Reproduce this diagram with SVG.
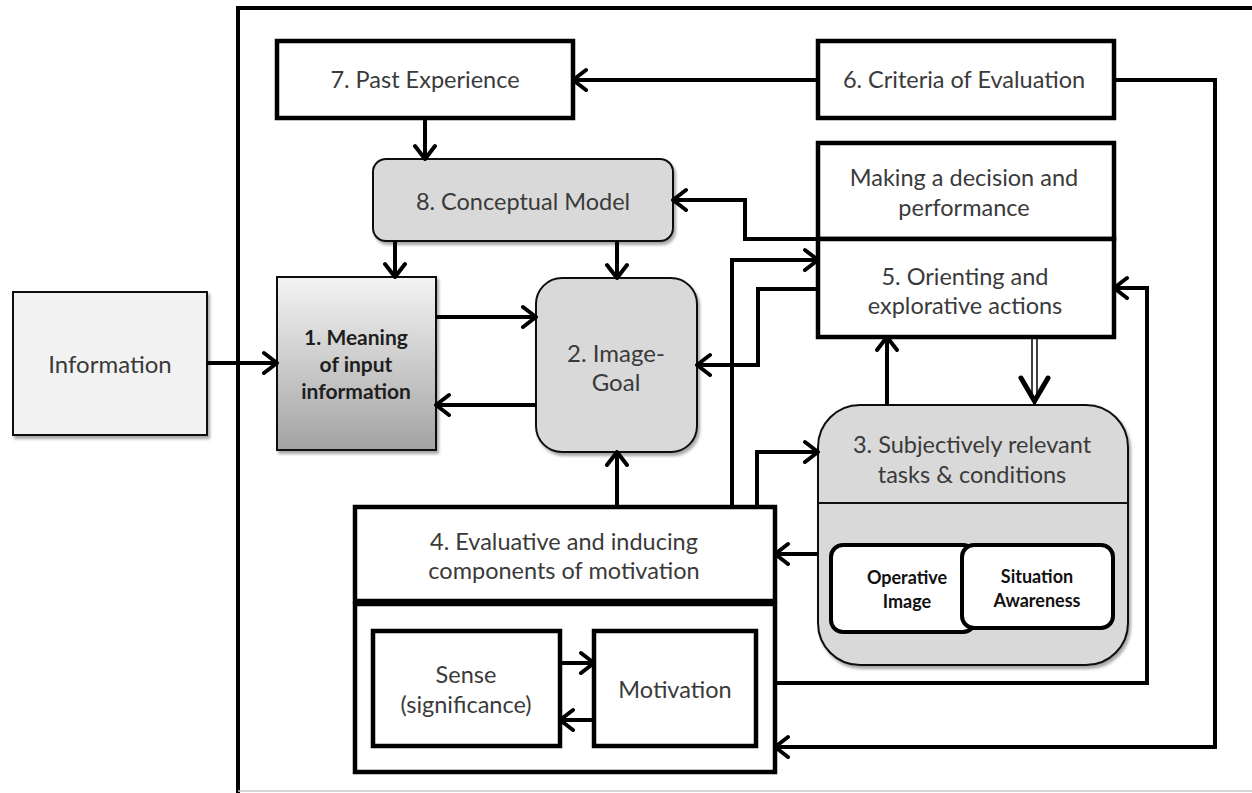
<svg xmlns="http://www.w3.org/2000/svg" width="1252" height="793" viewBox="0 0 1252 793">
  <defs>
    <style>
      .lbl { font-family: Lato, "Open Sans", "Liberation Sans", sans-serif; font-size: 23.5px; fill: #3a3a3a; text-anchor: middle; }
      .bold { font-size: 21px; font-weight: bold; fill: #1e1e1e; }
      .small { font-size: 18px; font-weight: bold; fill: #111; }
      .thick { fill: #fff; stroke: #000; stroke-width: 4.5; }
      .soft { fill: #d9d9d9; stroke: #111; stroke-width: 2; }
      .conn { fill: none; stroke: #000; stroke-width: 4; stroke-linejoin: miter; }
    </style>
    <marker id="arr" viewBox="-16 -13 18 26" markerWidth="18" markerHeight="26" refX="0" refY="0" markerUnits="userSpaceOnUse" orient="auto">
      <path d="M-13,-10 L0,0 L-13,10" fill="none" stroke="#000" stroke-width="4" stroke-linecap="round" stroke-linejoin="round"/>
    </marker>
    <linearGradient id="g1" x1="0" y1="0" x2="0" y2="1">
      <stop offset="0" stop-color="#f4f4f4"/>
      <stop offset="1" stop-color="#a3a3a3"/>
    </linearGradient>
    <filter id="sh" x="-10%" y="-10%" width="130%" height="130%">
      <feDropShadow dx="2" dy="3" stdDeviation="1.5" flood-color="#000" flood-opacity="0.35"/>
    </filter>
  </defs>

  <rect width="1252" height="793" fill="#fff"/>

  <!-- outer frame -->
  <g id="frame">
    <path d="M238,793 V8 H1252" fill="none" stroke="#000" stroke-width="4"/>
    <line x1="238" y1="791" x2="1252" y2="791" stroke="#c8c8c8" stroke-width="1.5"/>
  </g>

  <g id="information">
    <rect x="13" y="292" width="194" height="143" fill="#f2f2f2" stroke="#111" stroke-width="2" filter="url(#sh)"/>
    <text class="lbl" x="110" y="373" style="font-size:24px">Information</text>
  </g>

  <g id="n1-meaning">
    <rect x="277" y="277" width="159" height="173" fill="url(#g1)" stroke="#111" stroke-width="2" filter="url(#sh)"/>
    <text class="lbl bold" x="356" y="345">1. Meaning</text>
    <text class="lbl bold" x="356" y="372">of input</text>
    <text class="lbl bold" x="356" y="399">information</text>
  </g>

  <g id="n7-past">
    <rect class="thick" x="277" y="41" width="296" height="77"/>
    <text class="lbl" x="425" y="88">7. Past Experience</text>
  </g>

  <g id="n6-criteria">
    <rect class="thick" x="818" y="41" width="296" height="77"/>
    <text class="lbl" x="964" y="88">6. Criteria of Evaluation</text>
  </g>

  <g id="n8-model">
    <rect class="soft" x="373" y="159" width="300" height="82" rx="13" filter="url(#sh)"/>
    <text class="lbl" x="523" y="210">8. Conceptual Model</text>
  </g>

  <g id="n2-image-goal">
    <rect class="soft" x="536" y="278" width="161" height="174" rx="26" filter="url(#sh)"/>
    <text class="lbl" x="616" y="362" style="font-size:24px">2. Image-</text>
    <text class="lbl" x="616" y="391" style="font-size:24px">Goal</text>
  </g>

  <g id="decision">
    <rect class="thick" x="818" y="143" width="296" height="96"/>
    <text class="lbl" x="964" y="186">Making a decision and</text>
    <text class="lbl" x="964" y="216">performance</text>
  </g>

  <g id="n5-orienting">
    <rect class="thick" x="818" y="239" width="296" height="98"/>
    <text class="lbl" x="965" y="285">5. Orienting and</text>
    <text class="lbl" x="965" y="314">explorative actions</text>
  </g>

  <g id="n3-tasks">
    <rect class="soft" x="818" y="405" width="310" height="260" rx="42" filter="url(#sh)"/>
    <line x1="818" y1="503" x2="1128" y2="503" stroke="#111" stroke-width="2"/>
    <text class="lbl" x="972" y="453">3. Subjectively relevant</text>
    <text class="lbl" x="972" y="483">tasks &amp; conditions</text>
    <g id="operative-image">
      <rect x="831" y="545" width="144" height="87" rx="12" fill="#fff" stroke="#000" stroke-width="4"/>
      <text class="lbl small" x="907" y="584">Operative</text>
      <text class="lbl small" x="907" y="608">Image</text>
    </g>
    <g id="situation-awareness">
      <rect x="962" y="545" width="151" height="83" rx="12" fill="#fff" stroke="#000" stroke-width="4"/>
      <text class="lbl small" x="1037" y="583">Situation</text>
      <text class="lbl small" x="1037" y="607">Awareness</text>
    </g>
  </g>

  <g id="n4-motivation">
    <rect class="thick" x="355" y="507" width="420" height="94"/>
    <rect class="thick" x="355" y="604" width="420" height="168"/>
    <text class="lbl" x="564" y="550">4. Evaluative and inducing</text>
    <text class="lbl" x="564" y="579">components of motivation</text>
    <g id="sense">
      <rect class="thick" x="373" y="631" width="187" height="115"/>
      <text class="lbl" x="466" y="683">Sense</text>
      <text class="lbl" x="466" y="713">(significance)</text>
    </g>
    <g id="motivation">
      <rect class="thick" x="594" y="631" width="162" height="115"/>
      <text class="lbl" x="675" y="698">Motivation</text>
    </g>
  </g>

  <!-- connectors -->
  <g id="connectors" class="conn">
    <path class="conn" d="M207,363 H277" marker-end="url(#arr)"/>
    <path class="conn" d="M425,118 V159" marker-end="url(#arr)"/>
    <path class="conn" d="M395,241 V277" marker-end="url(#arr)"/>
    <path class="conn" d="M617,241 V278" marker-end="url(#arr)"/>
    <path class="conn" d="M436,317 H536" marker-end="url(#arr)"/>
    <path class="conn" d="M536,405 H436" marker-end="url(#arr)"/>
    <path class="conn" d="M818,80 H573" marker-end="url(#arr)"/>
    <path class="conn" d="M1114,80 H1215 V747 H775" marker-end="url(#arr)"/>
    <path class="conn" d="M818,239 H745 V200 H673" marker-end="url(#arr)"/>
    <path class="conn" d="M732,507 V260 H818" marker-end="url(#arr)"/>
    <path class="conn" d="M818,289 H758 V365 H697" marker-end="url(#arr)"/>
    <path class="conn" d="M757,507 V452 H818" marker-end="url(#arr)"/>
    <path class="conn" d="M617,507 V452" marker-end="url(#arr)"/>
    <path class="conn" d="M887,405 V337" marker-end="url(#arr)"/>
    <path class="conn" d="M775,683 H1147 V288 H1114" marker-end="url(#arr)"/>
    <path class="conn" d="M818,554 H775" marker-end="url(#arr)"/>
    <path class="conn" d="M560,663 H594" marker-end="url(#arr)"/>
    <path class="conn" d="M594,720 H560" marker-end="url(#arr)"/>
    <!-- hollow-shaft arrow from 5 down to 3 -->
    <g id="double-arrow">
      <line x1="1032" y1="337" x2="1032" y2="400" stroke="#000" stroke-width="1.5"/>
      <line x1="1037" y1="337" x2="1037" y2="400" stroke="#000" stroke-width="1.5"/>
      <path d="M1021,378 L1034.5,401 L1048,378" fill="none" stroke="#000" stroke-width="5" stroke-linecap="round" stroke-linejoin="miter"/>
    </g>
  </g>
</svg>
